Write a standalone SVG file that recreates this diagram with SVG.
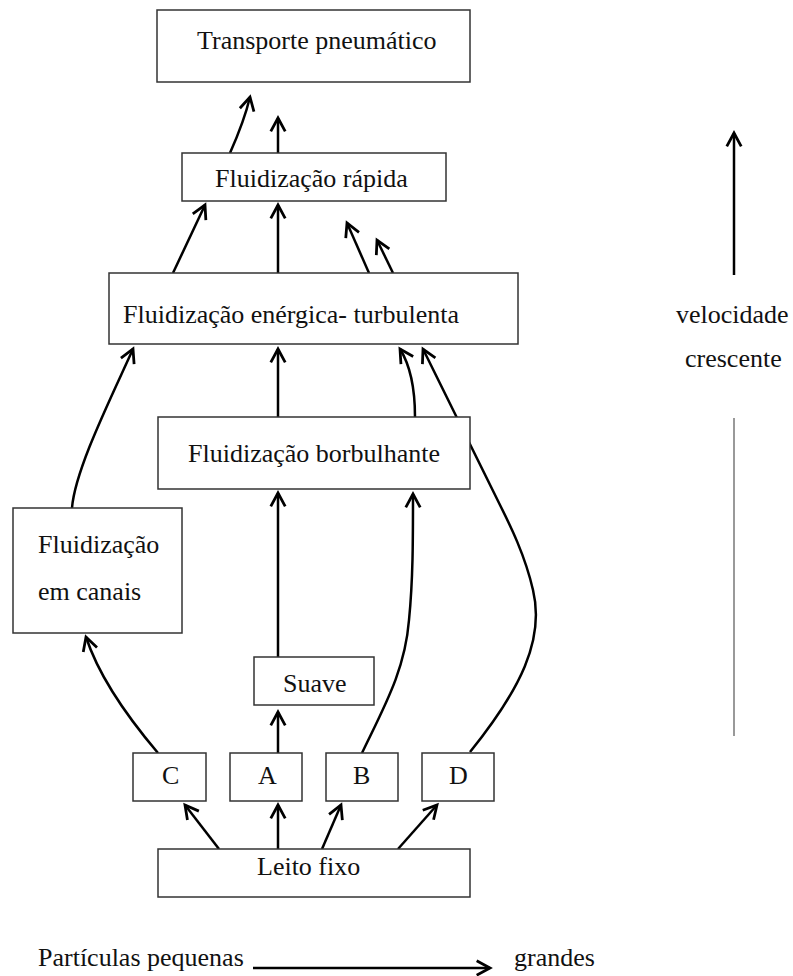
<svg xmlns="http://www.w3.org/2000/svg" width="793" height="976" viewBox="0 0 793 976">
<style>
.box{fill:#fff;stroke:#333;stroke-width:1.5}
.t{font-family:"Liberation Serif","Times New Roman",serif;font-size:26px;fill:#111}
.c{fill:none;stroke:#000;stroke-width:2.5;marker-end:url(#ah)}
</style>
<defs>
<marker id="ah" markerUnits="userSpaceOnUse" markerWidth="20" markerHeight="20" viewBox="-14 -9 16 18" refX="0" refY="0" orient="auto" overflow="visible">
<path d="M-12,-6.5 L0,0 L-12,6.5" fill="none" stroke="#000" stroke-width="2.5" stroke-linejoin="miter"/>
</marker>
</defs>
<rect width="793" height="976" fill="#fff"/>
<g id="connectors">
<path class="c" d="M230,153 C238,135 245,118 250,97"/>
<path class="c" d="M278,153 L278,118"/>
<path class="c" d="M173,273 L205,205"/>
<path class="c" d="M278,273 L278,205"/>
<path class="c" d="M369,273 L347,223"/>
<path class="c" d="M393,273 L377,240"/>
<path class="c" d="M72,508 C75,470 110,400 133,349"/>
<path class="c" d="M278,417 L278,349"/>
<path class="c" d="M415,417 C415,385 410,365 400,349"/>
<path class="c" d="M470,752 C520,690 545,640 533,590 C525,555 510,525 500,505 L423,349"/>
<path class="c" d="M278,657 L278,493"/>
<path class="c" d="M362,753 C385,705 405,670 409,620 C413,580 413,540 413,494"/>
<path class="c" d="M158,753 C130,720 100,680 86,637"/>
<path class="c" d="M278,753 L278,712"/>
<path class="c" d="M219,849 L185,805"/>
<path class="c" d="M278,849 L278,805"/>
<path class="c" d="M322,849 L341,805"/>
<path class="c" d="M398,849 L437,805"/>
<path class="c" d="M734,275 L734,133"/>
<path class="c" d="M253,968 L490,968"/>
</g>
<g id="transporte"><rect class="box" x="157" y="10" width="313" height="72"/><text class="t" x="197" y="49">Transporte pneumático</text></g>
<g id="rapida"><rect class="box" x="182" y="153" width="264" height="48"/><text class="t" x="215" y="187">Fluidização rápida</text></g>
<g id="energica"><rect class="box" x="109" y="273" width="409" height="71"/><text class="t" x="123" y="323">Fluidização enérgica- turbulenta</text></g>
<g id="borbulhante"><rect class="box" x="158" y="417" width="312" height="72"/><text class="t" x="188" y="462">Fluidização borbulhante</text></g>
<g id="canais"><rect class="box" x="13" y="508" width="169" height="125"/><text class="t" x="38" y="553">Fluidização</text><text class="t" x="38" y="600">em canais</text></g>
<g id="suave"><rect class="box" x="254" y="657" width="120" height="48"/><text class="t" x="283" y="692">Suave</text></g>
<g id="C"><rect class="box" x="133" y="753" width="73" height="48"/><text class="t" x="162" y="784">C</text></g>
<g id="A"><rect class="box" x="230" y="753" width="72" height="48"/><text class="t" x="258" y="784">A</text></g>
<g id="B"><rect class="box" x="326" y="753" width="72" height="48"/><text class="t" x="353" y="784">B</text></g>
<g id="D"><rect class="box" x="422" y="753" width="72" height="48"/><text class="t" x="449" y="784">D</text></g>
<g id="leito"><rect class="box" x="158" y="849" width="312" height="48"/><text class="t" x="257" y="875">Leito fixo</text></g>
<g id="velocidade"><text class="t" x="676" y="323">velocidade</text><text class="t" x="685" y="367">crescente</text><line x1="734" y1="418" x2="734" y2="736" stroke="#555" stroke-width="1.2"/></g>
<g id="particulas"><text class="t" x="38" y="966">Partículas pequenas</text><text class="t" x="514" y="966">grandes</text></g>
</svg>
